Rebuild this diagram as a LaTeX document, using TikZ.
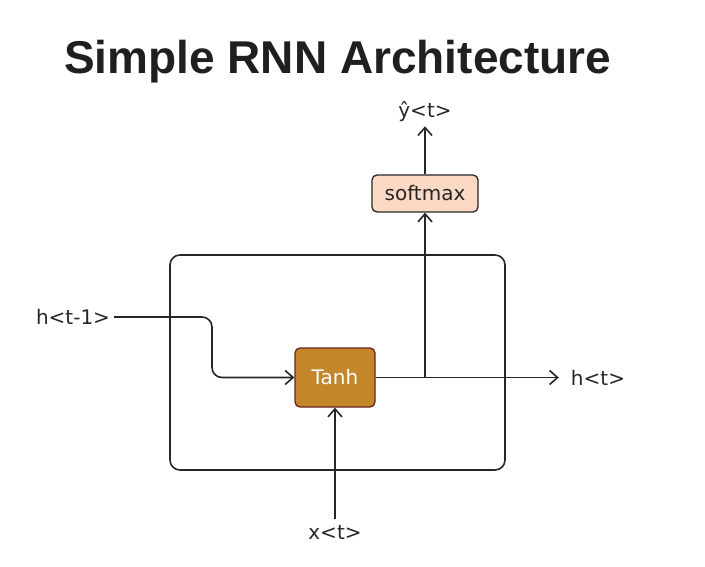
\documentclass[tikz,border=0pt]{standalone}
\usepackage{fontspec}
\setmainfont{DejaVu Sans}
\newfontfamily\titlefont{Liberation Sans}
\usetikzlibrary{arrows.meta,calc}
\definecolor{ink}{HTML}{262626}
\definecolor{tanhfill}{HTML}{C4862A}
\definecolor{tanhedge}{HTML}{6A2420}
\definecolor{softfill}{HTML}{FBD9C4}
\begin{document}
\begin{tikzpicture}[x=1pt,y=-1pt,
  flow/.style={draw=ink, line width=1.6pt, -{Straight Barb[length=8pt,width=14pt]}},
  lbl/.style={font=\fontsize{20}{24}\selectfont, text=ink, inner sep=4pt},
  unit/.style={rounded corners=5pt, line width=1.3pt, font=\fontsize{20}{24}\selectfont, minimum height=37pt}]
\useasboundingbox (0,0) rectangle (705,567);
\node [anchor=base west, inner sep=0pt, font=\titlefont\bfseries\fontsize{46}{50}\selectfont, text=black!88] (title) at (64,74) {Simple RNN Architecture};
\node [draw=ink, line width=1.6pt, rounded corners=10pt, minimum width=335pt, minimum height=215pt] (cell) at (337.5,362.5) {};
\node [unit, draw=tanhedge, fill=tanhfill, text=white, minimum width=80pt, minimum height=59pt] (tanh) at (335,377.5) {Tanh};
\node [unit, draw=ink, fill=softfill, text=ink, minimum width=106pt] (softmax) at (425,193.5) {softmax};
\node [lbl] (hprev) at (73,317) {h<t-1>};
\node [lbl, inner sep=12pt] (hnext) at (598,377.5) {h<t>};
\node [lbl] (yhat) at (425,112) {ŷ<t>};
\node [lbl, inner sep=6pt] (xin) at (335,532) {x<t>};
\coordinate (kink) at (212,0);
\coordinate (split) at (tanh.east -| softmax.south);
\draw [flow, rounded corners=10pt] (hprev.east) -- (kink |- hprev.east) -- (kink |- tanh.west) -- (tanh.west);
\draw [flow] (tanh.east) -- (hnext.west);
\draw [flow] (split) -- (softmax.south);
\draw [flow] (softmax.north) -- (yhat.south);
\draw [flow] (xin.north) -- (tanh.south);
\end{tikzpicture}
\end{document}
